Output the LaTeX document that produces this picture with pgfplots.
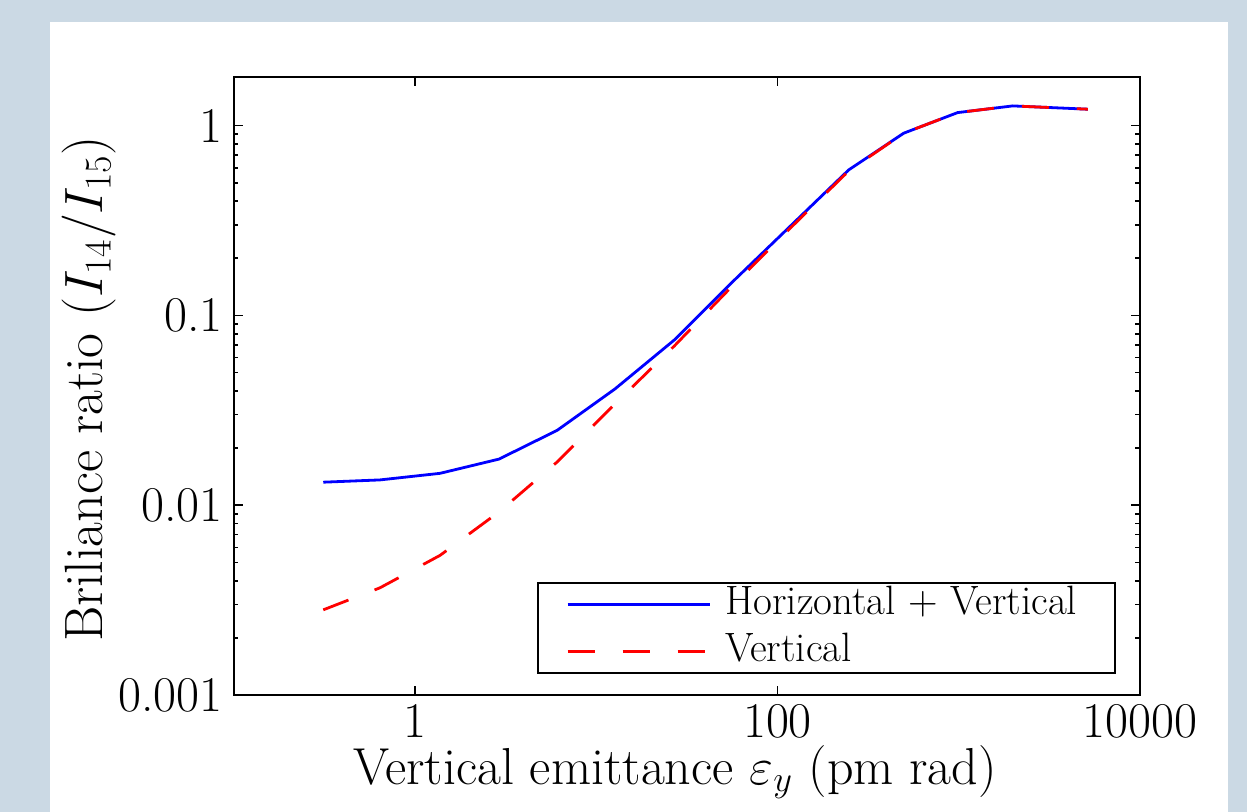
\documentclass[border=0pt]{standalone}
\usepackage{fix-cm}
\usepackage{fontspec}
\usepackage{pgfplots}
\pgfplotsset{compat=1.18}
\definecolor{panelbg}{RGB}{203,217,228}

% Brilliance ratio versus vertical emittance
\pgfplotstableread{
eps     ratio
0.312   0.01322
0.641   0.01359
1.375   0.01472
2.91    0.0175
6.09    0.0248
12.7    0.0410
27.0    0.0743
56.4    0.150
118     0.296
247     0.584
497     0.912
986     1.171
1987    1.27
5160    1.22
}\hvtable
\pgfplotstableread{
eps     ratio
0.312   0.00281
0.641   0.00367
1.375   0.00544
2.91    0.00922
6.09    0.0169
12.7    0.0342
27.0    0.0691
56.4    0.143
118     0.289
247     0.577
497     0.912
986     1.171
1987    1.27
5160    1.22
}\vtable

\begin{document}
\begin{tikzpicture}[x=1pt,y=1pt]
\fill[panelbg] (0,0) rectangle (623.5,406);
\fill[white] (25,0) rectangle (614,395);
\begin{axis}[
  at={(116.85pt,58.5pt)}, anchor=south west,
  scale only axis, width=453.15pt, height=309.15pt,
  xmode=log, ymode=log,
  xmin=0.1, xmax=10000, ymin=0.001, ymax=1.81,
  xtick={1,100,10000}, xticklabels={1,100,10000},
  minor xtick={},
  ytick={0.001,0.01,0.1,1}, yticklabels={0.001,0.01,0.1,1},
  minor ytick={0.002,0.003,0.004,0.005,0.006,0.007,0.008,0.009,
               0.02,0.03,0.04,0.05,0.06,0.07,0.08,0.09,
               0.2,0.3,0.4,0.5,0.6,0.7,0.8,0.9},
  tick align=inside,
  major tick length=4.5pt, minor tick length=2.4pt,
  every tick/.style={black, line width=0.8pt},
  axis line style={line width=1.1pt},
  ticklabel style={font=\fontsize{25}{29}\selectfont},
  yticklabel style={xshift=-2pt},
  xticklabel style={yshift=-1pt},
  xlabel={Vertical emittance $\varepsilon_y$ (pm rad)},
  ylabel={Briliance ratio ($I_{14}/I_{15}$)},
  every axis x label/.style={at={(axis description cs:0.487,0)}, anchor=base,
    yshift=-44.5pt, font=\fontsize{26}{30}\selectfont},
  every axis y label/.style={at={(axis description cs:-0.1597,0.495)}, rotate=90,
    anchor=center, font=\fontsize{27}{31}\selectfont},
  legend image code/.code={\draw[#1] (0pt,0pt) -- (71pt,0pt);},
  legend cell align=left,
  legend style={at={(0.9736,0.034)}, anchor=south east,
    draw=black, line width=1pt, fill=white,
    font=\fontsize{20.5}{24}\selectfont,
    inner xsep=14pt, inner ysep=2pt, row sep=6pt, column sep=7pt,
    nodes={inner sep=0pt, text height=14pt, text depth=3.5pt}},
]
\addplot[blue, line width=1.4pt] table[x=eps, y=ratio] {\hvtable};
\addlegendentry{Horizontal + Vertical\hspace*{5pt}}
\addplot[red, line width=1.4pt, dash pattern=on 13.5pt off 14pt] table[x=eps, y=ratio] {\vtable};
\addlegendentry{Vertical}
\end{axis}
\pgfresetboundingbox
\useasboundingbox (0,0) rectangle (623.5,406);
\end{tikzpicture}
\end{document}
